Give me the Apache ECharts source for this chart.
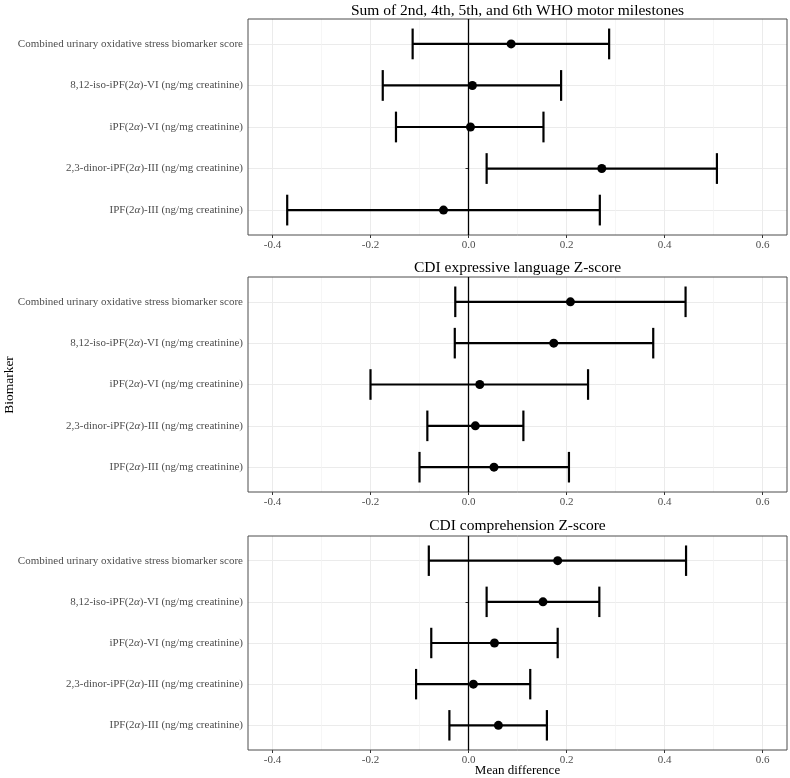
<!DOCTYPE html>
<html>
<head>
<meta charset="utf-8">
<script src="https://cdn.jsdelivr.net/npm/echarts@6/dist/echarts.min.js"></script>
<style>
html,body{margin:0;padding:0;background:#fff;}
#chart{width:790px;height:778px;}
</style>
</head>
<body>
<div id="chart"></div>
<script>
// ---- Data ----
const categories = [
  'Combined urinary oxidative stress biomarker score',
  '8,12-iso-iPF(2α)-VI (ng/mg creatinine)',
  'iPF(2α)-VI (ng/mg creatinine)',
  '2,3-dinor-iPF(2α)-III (ng/mg creatinine)',
  'IPF(2α)-III (ng/mg creatinine)'
];
const panelTitles = [
  'Sum of 2nd, 4th, 5th, and 6th WHO motor milestones',
  'CDI expressive language Z-score',
  'CDI comprehension Z-score'
];
const motorMean = [0.087, 0.008, 0.004, 0.272, -0.051];
const motorLow  = [-0.114, -0.175, -0.148, 0.037, -0.370];
const motorHigh = [0.287, 0.189, 0.153, 0.507, 0.268];

const exprMean = [0.208, 0.174, 0.023, 0.014, 0.052];
const exprLow  = [-0.027, -0.028, -0.200, -0.084, -0.100];
const exprHigh = [0.443, 0.377, 0.244, 0.112, 0.205];

const compMean = [0.182, 0.152, 0.053, 0.010, 0.061];
const compLow  = [-0.081, 0.037, -0.076, -0.107, -0.039];
const compHigh = [0.444, 0.267, 0.182, 0.126, 0.160];

const zeroRef = 0;
const xMajorTicks = [-0.4, -0.2, 0, 0.2, 0.4, 0.6];
const xMinorTicks = [-0.3, -0.1, 0.1, 0.3, 0.5];
const yTickIdx = [0, 1, 2, 3, 4];

const xLabel = 'Mean difference';
const yLabel = 'Biomarker';

// ---- Layout ----
const FONT = '"Liberation Serif", "Times New Roman", serif';
const gridLeft = 248, gridWidth = 539;
const panels = [
  {top: 19, height: 216, mean: motorMean, low: motorLow, high: motorHigh, titleY: 11},
  {top: 277, height: 215, mean: exprMean, low: exprLow, high: exprHigh, titleY: 268},
  {top: 536, height: 214, mean: compMean, low: compLow, high: compHigh, titleY: 526}
];
const Y_MIN = -0.6, Y_MAX = 4.6;

function catLabel(idx) {
  const s = categories[idx];
  const parts = s.split('α');
  if (parts.length === 1) return '{n|' + s + '}';
  return parts.map(p => '{n|' + p + '}').join('{i|α}');
}

const grids = [], xAxes = [], yAxes = [], series = [], graphics = [];

panels.forEach((p, k) => {
  grids.push({
    left: gridLeft, top: p.top, width: gridWidth, height: p.height,
    show: true, borderColor: '#4d4d4d', borderWidth: 1, backgroundColor: 'transparent', z: 3
  });
  // minor x axis (grid lines only)
  xAxes.push({
    type: 'value', gridIndex: k, min: -0.45, max: 0.65, position: 'top',
    axisLine: {show: false}, axisLabel: {show: false},
    axisTick: {show: false, customValues: xMinorTicks},
    splitLine: {show: true, lineStyle: {color: '#f2f2f2', width: 0.7}}
  });
  // major x axis
  xAxes.push({
    type: 'value', gridIndex: k, min: -0.45, max: 0.65, position: 'bottom',
    axisLine: {show: false},
    axisTick: {show: true, length: 3, customValues: xMajorTicks, lineStyle: {color: '#333', width: 1}},
    axisLabel: {
      show: true, customValues: xMajorTicks, margin: 5,
      color: '#4d4d4d', fontFamily: FONT, fontSize: 11,
      formatter: v => v.toFixed(1)
    },
    splitLine: {show: true, lineStyle: {color: '#ebebeb', width: 1}}
  });
  yAxes.push({
    type: 'value', gridIndex: k, min: Y_MIN, max: Y_MAX, inverse: true,
    axisLine: {show: false},
    axisTick: {show: true, length: 3, customValues: yTickIdx, lineStyle: {color: '#333', width: 1}},
    axisLabel: {
      show: true, customValues: yTickIdx, margin: 5,
      formatter: v => catLabel(Math.round(v)),
      rich: {
        n: {fontFamily: FONT, fontSize: 11, color: '#4d4d4d'},
        i: {fontFamily: FONT, fontSize: 11, color: '#4d4d4d', fontStyle: 'italic'}
      }
    },
    splitLine: {show: true, lineStyle: {color: '#ebebeb', width: 1}}
  });

  // zero reference line
  series.push({
    type: 'custom', xAxisIndex: 2 * k + 1, yAxisIndex: k, silent: true, z: 4,
    data: [[zeroRef]],
    renderItem: function (params, api) {
      const a = api.coord([api.value(0), Y_MIN]);
      const b = api.coord([api.value(0), Y_MAX]);
      return {type: 'line', shape: {x1: a[0], y1: a[1], x2: b[0], y2: b[1]},
              style: {stroke: '#000', lineWidth: 1.3}};
    }
  });

  const ebData = p.mean.map((m, i) => [p.low[i], p.high[i], i]);
  series.push({
    type: 'custom', xAxisIndex: 2 * k + 1, yAxisIndex: k, silent: true,
    data: ebData, z: 5,
    renderItem: function (params, api) {
      const lo = api.value(0), hi = api.value(1), y = api.value(2);
      const a = api.coord([lo, y]), b = api.coord([hi, y]);
      const half = api.size([0, 0.37])[1];
      const st = {stroke: '#000', lineWidth: 2.2, fill: null};
      return {
        type: 'group',
        children: [
          {type: 'line', shape: {x1: a[0], y1: a[1], x2: b[0], y2: b[1]}, style: st},
          {type: 'line', shape: {x1: a[0], y1: a[1] - half, x2: a[0], y2: a[1] + half}, style: st},
          {type: 'line', shape: {x1: b[0], y1: b[1] - half, x2: b[0], y2: b[1] + half}, style: st}
        ]
      };
    }
  });
  series.push({
    type: 'scatter', xAxisIndex: 2 * k + 1, yAxisIndex: k,
    data: p.mean.map((m, i) => [m, i]),
    symbol: 'circle', symbolSize: 9, z: 6,
    itemStyle: {color: '#000', opacity: 1},
    silent: true
  });
  graphics.push({
    type: 'text', x: gridLeft + gridWidth / 2, y: p.titleY,
    style: {text: panelTitles[k], fontFamily: FONT, fontSize: 15.5, fill: '#000',
            textAlign: 'center', textVerticalAlign: 'middle'}
  });
});

graphics.push({
  type: 'text', x: gridLeft + gridWidth / 2, y: 771,
  style: {text: xLabel, fontFamily: FONT, fontSize: 13, fill: '#000',
          textAlign: 'center', textVerticalAlign: 'middle'}
});
graphics.push({
  type: 'text', x: 9, y: 385, rotation: Math.PI / 2,
  style: {text: yLabel, fontFamily: FONT, fontSize: 13.5, fill: '#000',
          textAlign: 'center', textVerticalAlign: 'middle'}
});

const chart = echarts.init(document.getElementById('chart'), null, {renderer: 'canvas'});
chart.setOption({
  animation: false,
  backgroundColor: '#fff',
  grid: grids,
  xAxis: xAxes,
  yAxis: yAxes,
  series: series,
  graphic: graphics
});
</script>
</body>
</html>
